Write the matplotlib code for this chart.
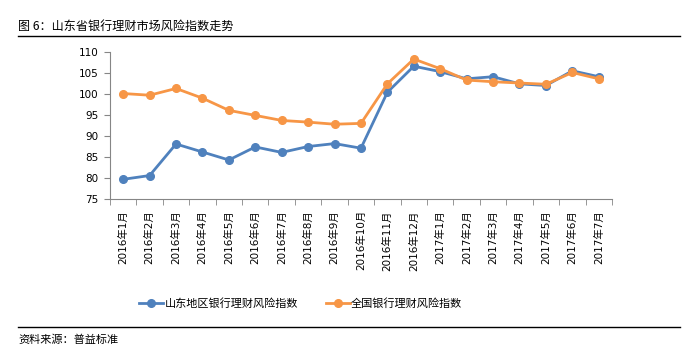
import numpy as np
import matplotlib.pyplot as plt
from matplotlib.lines import Line2D

plt.rcParams['font.family'] = ['Noto Sans CJK SC', 'DejaVu Sans']

months = ['2016年1月', '2016年2月', '2016年3月', '2016年4月', '2016年5月', '2016年6月',
          '2016年7月', '2016年8月', '2016年9月', '2016年10月', '2016年11月', '2016年12月',
          '2017年1月', '2017年2月', '2017年3月', '2017年4月', '2017年5月', '2017年6月',
          '2017年7月']
shandong = [79.7, 80.6, 88.1, 86.2, 84.3, 87.4, 86.1, 87.5, 88.2, 87.1,
            100.4, 106.6, 105.3, 103.6, 104.1, 102.4, 102.0, 105.5, 104.1]
national = [100.1, 99.7, 101.3, 99.0, 96.1, 94.9, 93.7, 93.3, 92.8, 93.0,
            102.4, 108.3, 106.0, 103.3, 102.9, 102.6, 102.3, 105.1, 103.6]
yticks = [75, 80, 85, 90, 95, 100, 105, 110]

blue = '#4F81BD'
orange = '#F79646'
axis_gray = '#868686'
tick_font = ['DejaVu Sans', 'Noto Sans CJK SC']

fig = plt.figure(figsize=(6.83, 3.53), dpi=100)
ax = fig.add_axes([0.161, 0.436, 0.735, 0.417])

x = np.arange(len(months))
ax.plot(x, shandong, color=blue, lw=2, marker='o', ms=5.5, label='山东地区银行理财风险指数')
ax.plot(x, national, color=orange, lw=2, marker='o', ms=5.5, label='全国银行理财风险指数')

ax.set_xlim(-0.5, len(months) - 0.5)
ax.set_ylim(75, 110)
ax.set_yticks(yticks)
ax.set_yticklabels([str(v) for v in yticks], fontsize=7.5, family=tick_font)
ax.tick_params(axis='y', length=4, color=axis_gray, pad=4)

ax.set_xticks(x)
ax.set_xticklabels(months, rotation=90, fontsize=7.5, family=tick_font)
ax.set_xticks(np.arange(len(months) + 1) - 0.5, minor=True)
ax.tick_params(axis='x', which='major', length=0, pad=8)
ax.tick_params(axis='x', which='minor', length=4, color=axis_gray)

for s in ['top', 'right']:
    ax.spines[s].set_visible(False)
for s in ['left', 'bottom']:
    ax.spines[s].set_color(axis_gray)

handles = [Line2D([], [], color=blue, lw=2, marker='o', ms=5.5),
           Line2D([], [], color=orange, lw=2, marker='o', ms=5.5)]
fig.legend(handles, ['山东地区银行理财风险指数', '全国银行理财风险指数'],
           loc='center', bbox_to_anchor=(0.44, 1 - 303 / 353), ncol=2,
           frameon=False, fontsize=8, handlelength=2.2, columnspacing=2.5,
           handletextpad=0.1)

fig.text(18 / 683, 1 - 26 / 353, '图 6：山东省银行理财市场风险指数走势', fontsize=8.7,
         va='center', ha='left')
fig.add_artist(Line2D([18 / 683, 680 / 683], [1 - 36 / 353, 1 - 36 / 353],
                      color='black', lw=1))
fig.add_artist(Line2D([18 / 683, 680 / 683], [1 - 327 / 353, 1 - 327 / 353],
                      color='black', lw=1))
fig.text(18 / 683, 1 - 340 / 353, '资料来源：普益标准', fontsize=8, va='center', ha='left')

fig.savefig('out.png', dpi=100)
